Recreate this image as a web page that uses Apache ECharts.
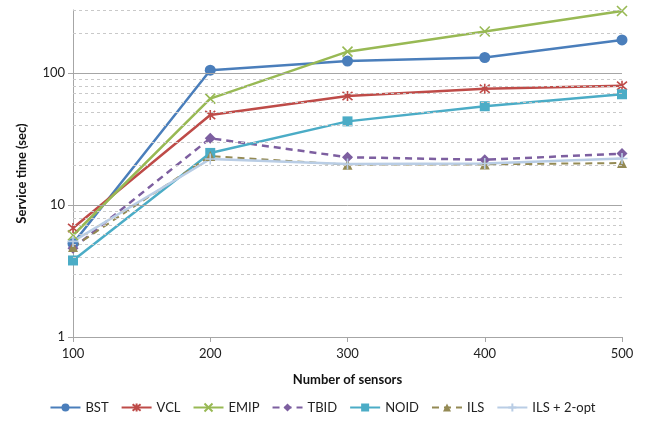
<!DOCTYPE html>
<html>
<head>
<meta charset="utf-8">
<script src="https://cdn.jsdelivr.net/npm/echarts@6/dist/echarts.min.js"></script>
<style>
  html, body { margin: 0; padding: 0; background: #fff; }
  #chart { width: 645px; height: 425px; }
</style>
</head>
<body>
<div id="chart"></div>
<script>
// x categories (number of sensors)
const sensors = [100, 200, 300, 400, 500];

// service time (sec)
const bst     = [5.1, 105, 123, 131, 178];
const vcl     = [6.7, 48, 67, 76, 80];
const emip    = [5.9, 64, 145, 206, 295];
const tbid    = [4.7, 32, 23, 22, 24.5];
const noid    = [3.8, 24.8, 43, 56, 69];
const ils     = [4.8, 23.5, 20.2, 20.3, 20.8];
const ils2opt = [5.3, 22.3, 20.4, 20.6, 22.5];

// y ticks and grid lines (log scale)
const majorTicks = [1, 10, 100];
const minorTicks = [2, 3, 4, 5, 6, 7, 8, 9, 20, 30, 40, 50, 60, 70, 80, 90, 200, 300];

const FONT = 'Lato';
const pairs = arr => arr.map((v, i) => [sensors[i], v]);

const starPath = 'path://M0,0L10,10M10,0L0,10M5,-1L5,11';
const crossPath = 'path://M0,0L10,10M10,0L0,10';
const plusPath = 'path://M5,0L5,10M0,5L10,5';

function mk(name, data, color, symbol, size, opts) {
  opts = opts || {};
  const stroked = symbol.startsWith('path://');
  return {
    name: name,
    type: 'line',
    data: pairs(data),
    symbol: symbol,
    symbolSize: size,
    showAllSymbol: true,
    z: 3,
    lineStyle: { color: color, width: opts.width || 2.5, type: opts.dash ? [7, 5] : 'solid' },
    itemStyle: stroked
      ? { color: 'transparent', borderColor: color, borderWidth: 1.6 }
      : { color: color, borderColor: color, borderWidth: 0 }
  };
}

const chart = echarts.init(document.getElementById('chart'));

chart.setOption({
  animation: false,
  textStyle: { fontFamily: FONT },
  grid: { left: 73, right: 23, top: 10, bottom: 88 },
  legend: {
    bottom: 6,
    left: 'center',
    itemWidth: 30,
    itemHeight: 10,
    itemGap: 12,
    textStyle: { fontFamily: FONT, fontSize: 13, color: '#222' },
    data: ['BST', 'VCL', 'EMIP', 'TBID', 'NOID', 'ILS', 'ILS + 2-opt']
  },
  xAxis: {
    type: 'value',
    min: 100,
    max: 500,
    interval: 100,
    name: 'Number of sensors',
    nameLocation: 'middle',
    nameGap: 36,
    nameTextStyle: { fontFamily: FONT, fontSize: 13, fontWeight: 'bold', color: '#111' },
    axisLine: { lineStyle: { color: '#a6a6a6', width: 1 } },
    axisTick: { show: true, inside: false, length: 5, lineStyle: { color: '#a6a6a6' } },
    axisLabel: { fontFamily: FONT, fontSize: 13, color: '#222', margin: 10 },
    splitLine: { show: false }
  },
  yAxis: {
    type: 'log',
    logBase: 10,
    min: 1,
    max: 300,
    name: 'Service time (sec)',
    nameLocation: 'middle',
    nameGap: 45,
    nameTextStyle: { fontFamily: FONT, fontSize: 13, fontWeight: 'bold', color: '#111' },
    axisLine: { show: true, lineStyle: { color: '#a6a6a6', width: 1 } },
    axisTick: { show: true, length: 5, lineStyle: { color: '#a6a6a6' }, customValues: majorTicks },
    axisLabel: { fontFamily: FONT, fontSize: 13, color: '#222', margin: 8, customValues: majorTicks },
    splitLine: { show: false }
  },
  series: [
    {
      name: 'grid',
      type: 'line',
      data: [],
      z: 1,
      silent: true,
      markLine: {
        silent: true,
        symbol: 'none',
        animation: false,
        label: { show: false },
        data: majorTicks.map(v => ({ yAxis: v, lineStyle: { color: '#a6a6a6', width: 1, type: 'solid' } }))
          .concat(minorTicks.map(v => ({ yAxis: v, lineStyle: { color: '#c9c9c9', width: 1, type: [3, 3] } })))
      }
    },
    mk('BST', bst, '#4a7ebb', 'circle', 11),
    mk('VCL', vcl, '#be4b48', starPath, 10),
    mk('EMIP', emip, '#98b954', crossPath, 10),
    mk('TBID', tbid, '#7d5fa0', 'diamond', 11, { dash: true }),
    mk('NOID', noid, '#4bacc6', 'rect', 10),
    mk('ILS', ils, '#948a54', 'triangle', 10, { dash: true, width: 2 }),
    mk('ILS + 2-opt', ils2opt, '#b9cde5', plusPath, 11)
  ]
});
</script>
</body>
</html>
